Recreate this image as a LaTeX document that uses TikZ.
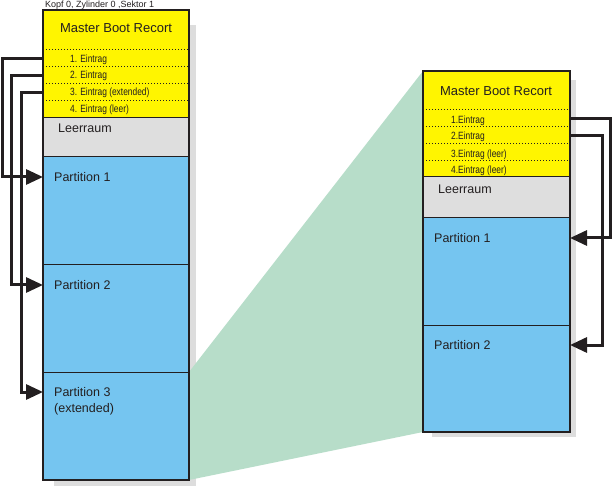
\documentclass[tikz,border=0pt]{standalone}
\usepackage{fontspec}
\setmainfont{Liberation Sans}
\newfontfamily\narrowfont[FakeStretch=0.8]{Liberation Sans}
\usetikzlibrary{arrows.meta,calc}
\definecolor{mbryellow}{RGB}{255,245,0}
\definecolor{leergray}{RGB}{222,222,222}
\definecolor{shadowgray}{RGB}{221,221,221}
\definecolor{partblue}{RGB}{117,197,240}
\definecolor{zoomgreen}{RGB}{183,221,201}
\definecolor{border}{RGB}{35,31,32}
\tikzset{
  rowL/.style={fill=#1, inner sep=0pt, anchor=north west, minimum width=146pt, outer sep=0pt},
  rowR/.style={fill=#1, inner sep=0pt, anchor=north west, minimum width=147pt, outer sep=0pt},
  frame/.style={draw=border, line width=2pt},
  sep/.style={draw=border, line width=1pt},
  dotsep/.style={draw=border, line width=1pt, dash pattern=on 1pt off 2pt},
  titletext/.style={inner sep=0pt, font=\fontsize{13}{15}\selectfont, text=border},
  entrytext/.style={inner sep=0pt, anchor=west, font=\narrowfont\fontsize{10.5}{12}\selectfont, text=border},
  bigtext/.style={inner sep=0pt, anchor=west, font=\fontsize{12.5}{14}\selectfont, text=border},
  smalltext/.style={inner sep=0pt, anchor=west, font=\fontsize{9}{10}\selectfont, text=border},
  conn/.style={draw=border, line width=3pt, line join=miter, -{Triangle[length=17pt,width=15pt]}},
  shadow/.style={fill=shadowgray}
}
\begin{document}
\begin{tikzpicture}[x=1pt,y=-1pt]
\useasboundingbox (0,0) rectangle (613,486);
% shadows
\fill[shadow] (54,25) rectangle (196,486);
\fill[shadow] (432,80) rectangle (576,437);
% left rows
\node[rowL=mbryellow, minimum height=40pt] (Lmbr) at (43,10) {};
\node[rowL=mbryellow, minimum height=17pt] (Le1) at (43,50) {};
\node[rowL=mbryellow, minimum height=17pt] (Le2) at (43,67) {};
\node[rowL=mbryellow, minimum height=17pt] (Le3) at (43,84) {};
\node[rowL=mbryellow, minimum height=17pt] (Le4) at (43,101) {};
\node[rowL=leergray, minimum height=39pt] (Lleer) at (43,118) {};
\node[rowL=partblue, minimum height=108pt] (Lp1) at (43,157) {};
\node[rowL=partblue, minimum height=107pt] (Lp2) at (43,265) {};
\node[rowL=partblue, minimum height=108pt] (Lp3) at (43,372) {};
% right rows
\node[rowR=mbryellow, minimum height=39pt] (Rmbr) at (423,71) {};
\node[rowR=mbryellow, minimum height=17pt] (Re1) at (423,110) {};
\node[rowR=mbryellow, minimum height=17pt] (Re2) at (423,127) {};
\node[rowR=mbryellow, minimum height=17pt] (Re3) at (423,144) {};
\node[rowR=mbryellow, minimum height=16pt] (Re4) at (423,161) {};
\node[rowR=leergray, minimum height=41pt] (Rleer) at (423,177) {};
\node[rowR=partblue, minimum height=107pt] (Rp1) at (423,218) {};
\node[rowR=partblue, minimum height=107pt] (Rp2) at (423,325) {};
% green zoom region
\fill[zoomgreen] (Lp3.north east) -- (Rmbr.north west) -- (Rp2.south west) -- (Lp3.south east) -- cycle;
% separators left
\foreach \r in {Le1,Le2,Le3,Le4} \draw[dotsep] (\r.north west) -- (\r.north east);
\foreach \r in {Lleer,Lp1,Lp2,Lp3} \draw[sep] (\r.north west) -- (\r.north east);
\draw[frame] (Lmbr.north west) rectangle (Lp3.south east);
% separators right
\foreach \r in {Re1,Re2,Re3,Re4} \draw[dotsep] (\r.north west) -- (\r.north east);
\foreach \r in {Rleer,Rp1,Rp2} \draw[sep] (\r.north west) -- (\r.north east);
\draw[frame] (Rmbr.north west) rectangle (Rp2.south east);
% texts left
\node[smalltext] (Lhead) at (45,5) {Kopf 0, Zylinder 0 ,Sektor 1};
\node[titletext] (Lmbrt) at (116,28) {Master Boot Recort};
\node[entrytext] (Le1t) at (70,60) {1. Eintrag};
\node[entrytext] (Le2t) at (70,76) {2. Eintrag};
\node[entrytext] (Le3t) at (70,93) {3. Eintrag (extended)};
\node[entrytext] (Le4t) at (70,110) {4. Eintrag (leer)};
\node[bigtext] (Lleert) at (58,128) {Leerraum};
\node[bigtext] (Lp1t) at (54,177) {Partition 1};
\node[bigtext] (Lp2t) at (54,285) {Partition 2};
\node[bigtext] (Lp3t) at (54,392) {Partition 3};
\node[bigtext] (Lp3x) at (54,409) {(extended)};
% texts right
\node[titletext] (Rmbrt) at (496,91) {Master Boot Recort};
\node[entrytext] (Re1t) at (451,121) {1.Eintrag};
\node[entrytext] (Re2t) at (451,137) {2.Eintrag};
\node[entrytext] (Re3t) at (451,155) {3.Eintrag (leer)};
\node[entrytext] (Re4t) at (451,171) {4.Eintrag (leer)};
\node[bigtext] (Rleert) at (438,189) {Leerraum};
\node[bigtext] (Rp1t) at (434,238) {Partition 1};
\node[bigtext] (Rp2t) at (434,345) {Partition 2};
% connectors left
\draw[conn] (Le1.west) -- ++(-41,0) |- (Lp1t.west -| Lp1.west);
\draw[conn] (Le2.west) -- ++(-32,0) |- (Lp2t.west -| Lp2.west);
\draw[conn] (Le3.west) -- ++(-22,0) |- (Lp3t.west -| Lp3.west);
% connectors right
\draw[conn] (Re1.east) -- ++(40,0) |- (Rp1t.west -| Rp1.east);
\draw[conn] (Re2.east) -- ++(32,0) |- (Rp2t.west -| Rp2.east);
\end{tikzpicture}
\end{document}
